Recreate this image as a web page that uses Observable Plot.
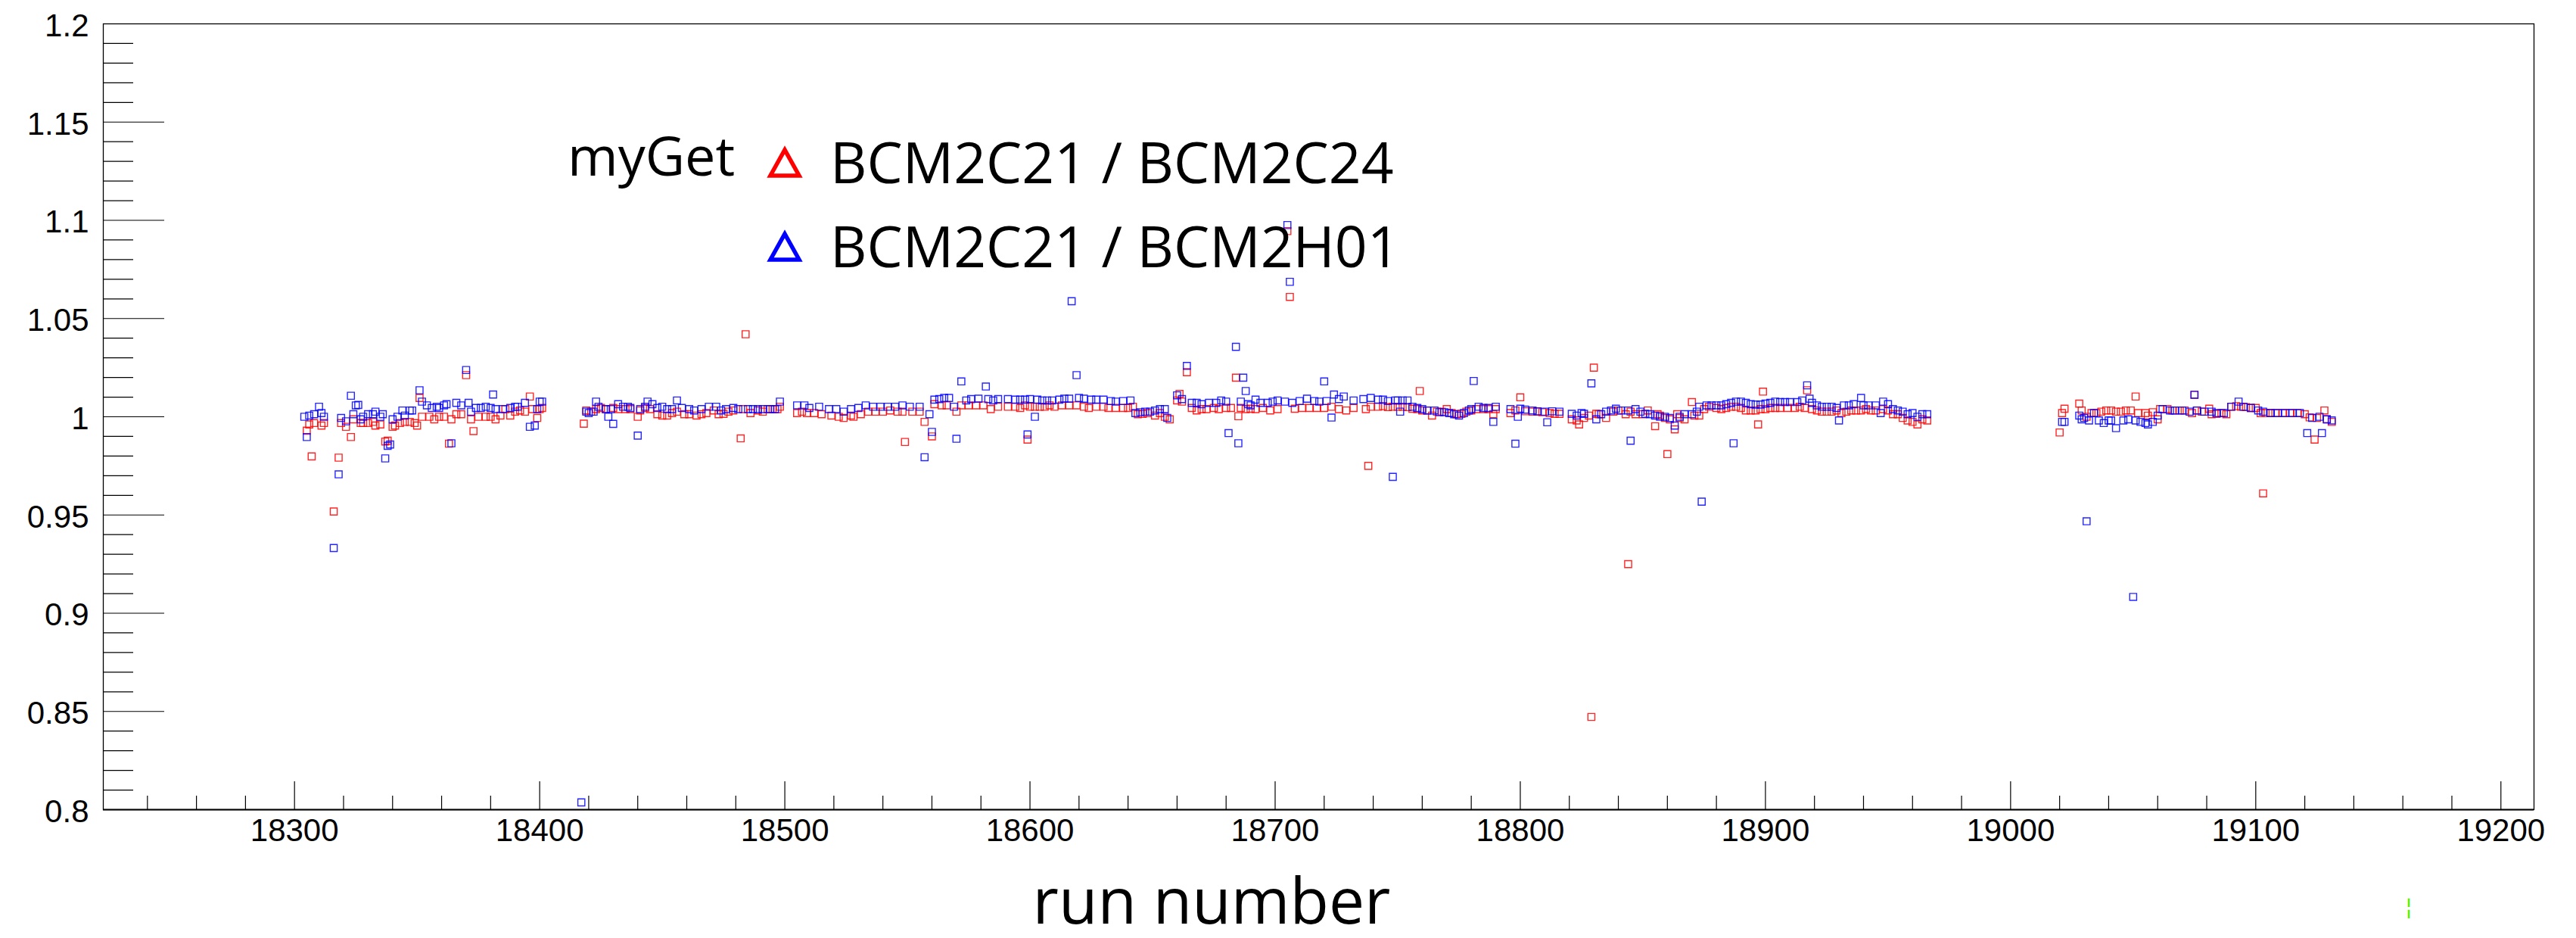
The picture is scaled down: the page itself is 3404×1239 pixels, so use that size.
<!DOCTYPE html>
<html><head><meta charset="utf-8">
<script src="https://cdn.jsdelivr.net/npm/d3@7"></script>
<script src="https://cdn.jsdelivr.net/npm/@observablehq/plot@0.6"></script>
<style>
body{margin:0;background:#fff;}
#wrap{position:relative;width:3404px;height:1239px;}
</style></head><body><div id="wrap"></div>
<script>
// ---- data: BCM2C21 / BCM2C24 (red) ----
const redRuns = [18305,18306,18307,18308,18311,18312,18316,18318,18319,18321,18323,18324,18327,18328,18330,18332,18333,18335,18337,18338,18340,18341,18343,18345,18347,18349,18350,18351,18352,18355,18357,18359,18361,18363,18364,18366,18368,18370,18372,18373,18375,18378,18380,18382,18384,18386,18388,18390,18392,18394,18396,18397,18399,18400,18401,
18418,18419,18421,18423,18425,18427,18430,18432,18435,18437,18440,18441,18443,18445,18448,18450,18452,18454,18456,18459,18461,18464,18466,18468,18471,18473,18475,18477,18479,18482,18483,18484,18486,18489,18491,18493,18495,18497,18498,
18505,18507,18509,18512,18515,18519,18522,18524,18527,18528,18531,18534,18537,18540,18543,18546,18548,18549,18552,18555,18557,18560,18561,18564,18566,18570,18572,18575,18578,18581,18584,18587,18591,18594,18596,18598,18599,18600,18602,18604,18606,18608,18610,18613,18616,18619,18622,18624,18627,18630,18632,18635,18638,18640,18642,18644,18646,18648,18651,18653,18655,18657,
18660,18661,18662,18664,18666,18668,18670,18672,18675,18677,18680,18682,18684,18685,18686,18688,18690,18692,18695,18698,18701,18705,18706,18708,18711,18714,18717,18720,18723,18726,18729,18732,18737,18738,18739,18742,18744,18746,18748,18750,18752,18754,18756,18758,18759,18760,18762,18764,18766,18768,18770,18772,18774,18776,18778,18780,18782,18785,18787,18789,18790,
18796,18798,18800,18802,18805,18807,18809,18812,18814,18816,18821,18823,18824,18826,18828,18829,18830,18831,18832,18835,18838,18840,18843,18844,18845,18847,18850,18852,18855,18856,18857,18859,18860,18861,18863,18864,18865,18867,18870,18871,18873,18875,18877,18880,18882,18884,18886,18888,18890,18892,18894,18896,18897,18898,18899,18900,18902,18904,18906,18909,18912,18914,18916,18917,18919,18921,18923,18925,18927,18929,18931,18933,18935,18937,18939,18941,18943,18945,18948,18950,18952,18954,18956,18958,18960,18962,18964,18966,
19020,19021,19022,19028,19029,19031,19033,19035,19037,19039,19041,19043,19045,19047,19049,19051,19052,19055,19056,19058,19060,19061,19064,19066,19069,19071,19074,19075,19076,19078,19081,19082,19084,19086,19088,19090,19092,19094,19096,19098,19100,19102,19103,19104,19106,19108,19111,19114,19117,19120,19122,19124,19125,19128,19129,19131];
const redRatio = [0.9929,0.9961,0.9798,0.9968,0.9955,0.9968,0.9518,0.9792,0.9968,0.9949,0.9897,0.9987,0.9968,0.9968,0.9968,0.9974,0.9955,0.9961,0.9874,0.9878,0.9949,0.9955,0.9968,0.9974,0.9974,0.9968,0.9955,1.0096,1.0,1.0,0.9987,1.0,1.0,0.9863,0.9987,1.0013,1.0013,1.0212,0.9987,0.9927,1.0,1.0,1.0,0.9987,1.0006,1.0039,1.0006,1.0026,1.0032,1.0026,1.0103,1.0039,0.9994,1.0039,1.0045,
0.9965,1.0032,1.0026,1.0039,1.0045,1.0039,1.0045,1.0039,1.0039,1.0039,1.0,1.0032,1.0045,1.0039,1.0013,1.0006,1.0006,1.0019,1.0026,1.0013,1.0013,1.0006,1.0013,1.0019,1.0032,1.0013,1.0015,1.0026,1.0032,0.989,1.0039,1.042,1.0019,1.0032,1.0026,1.0039,1.0039,1.0039,1.0051,
1.0019,1.0026,1.0019,1.0019,1.0013,1.0006,1.0,0.9994,1.0006,1.0,1.0013,1.0026,1.0026,1.0026,1.0032,1.0026,1.0026,0.9872,1.0026,1.0026,0.9974,0.99,1.0064,1.0058,1.0058,1.0026,1.0058,1.0058,1.0058,1.0058,1.0039,1.0051,1.0051,1.0051,1.0045,1.0058,0.9884,1.0051,1.0051,1.0051,1.0051,1.0058,1.0051,1.0058,1.0058,1.0058,1.0051,1.0045,1.0051,1.0051,1.0045,1.0045,1.0045,1.0045,1.0051,1.0013,1.0015,1.0019,1.0006,1.0019,1.0,0.9987,
1.0083,1.0116,1.0077,1.0227,1.0045,1.0032,1.0039,1.0039,1.0045,1.0039,1.0045,1.0045,1.0199,1.0003,1.0045,1.0039,1.0041,1.0039,1.0045,1.0032,1.0039,1.0945,1.061,1.0041,1.0045,1.0045,1.0045,1.0045,1.0051,1.0039,1.0032,1.0045,1.0039,0.975,1.0051,1.0051,1.0054,1.0049,1.0051,1.0051,1.0051,1.0049,1.0041,1.0039,1.0131,1.0032,1.0032,1.0006,1.0026,1.0026,1.0039,1.0019,1.0013,1.0015,1.0026,1.0032,1.0039,1.0039,1.0039,1.0013,1.0039,
1.0019,1.0032,1.0099,1.0028,1.0026,1.0026,1.0023,1.0019,1.0015,1.0015,0.9987,0.9981,0.9961,0.9994,1.0006,0.8472,1.025,1.0015,1.0013,0.9994,1.0026,1.0032,1.0013,0.925,1.0026,1.0013,1.0013,1.0032,0.9952,1.0013,1.0006,0.9994,0.981,0.9987,0.9936,1.0013,0.9994,0.9987,1.0075,1.0006,1.0006,1.0039,1.0051,1.0045,1.0039,1.0045,1.0051,1.0051,1.0045,1.0032,1.0032,1.0032,0.9961,1.0039,1.0128,1.0039,1.0045,1.0045,1.0045,1.0045,1.0045,1.0051,1.0045,1.0135,1.0039,1.0032,1.0026,1.0026,1.0026,1.0032,1.0019,1.0026,1.0032,1.0032,1.0032,1.0039,1.0032,1.0032,1.0039,1.0032,1.0013,1.0013,0.9994,0.9981,0.9974,0.9961,0.9987,0.9981,
0.992,1.0019,1.0041,1.0067,1.0032,1.0,1.0019,1.0019,1.0026,1.0032,1.0032,1.0026,1.0026,1.0032,1.0032,1.0103,1.0019,1.0019,1.0006,1.0023,0.9987,1.0039,1.0039,1.0032,1.0032,1.0032,1.0019,1.0112,1.0032,1.0026,1.0041,1.0013,1.0015,1.0019,1.0013,1.0051,1.0054,1.0051,1.0049,1.0045,1.0045,1.0019,0.961,1.0019,1.0019,1.0019,1.0019,1.0019,1.0019,1.0013,0.9997,0.9884,0.9994,1.0032,0.9987,0.9974];

// ---- data: BCM2C21 / BCM2H01 (blue) ----
const blueRuns = [18304,18305,18306,18308,18310,18311,18312,18316,18318,18319,18321,18323,18324,18325,18326,18327,18328,18330,18332,18333,18335,18336,18337,18338,18339,18340,18342,18344,18345,18347,18348,18351,18352,18354,18356,18358,18359,18361,18362,18364,18366,18368,18370,18371,18372,18374,18376,18378,18380,18381,18382,18385,18388,18390,18391,18394,18396,18398,18399,18400,18401,
18417,18419,18420,18422,18423,18424,18427,18428,18429,18430,18432,18434,18436,18437,18440,18441,18443,18444,18446,18448,18450,18452,18454,18456,18458,18461,18463,18466,18469,18472,18474,18476,18479,18481,18485,18487,18489,18491,18494,18496,18498,
18505,18508,18510,18514,18518,18521,18524,18527,18530,18533,18536,18539,18542,18545,18548,18551,18555,18557,18559,18560,18561,18563,18565,18567,18569,18570,18572,18574,18576,18579,18582,18583,18585,18587,18591,18594,18596,18598,18599,18600,18602,18603,18605,18607,18609,18612,18614,18616,18617,18619,18620,18622,18625,18627,18630,18633,18635,18638,18641,18643,18645,18647,18649,18651,18653,18655,18656,
18660,18662,18664,18666,18668,18670,18673,18676,18678,18680,18681,18684,18685,18686,18687,18688,18689,18690,18692,18694,18697,18699,18701,18704,18705,18706,18707,18710,18713,18716,18718,18720,18721,18723,18724,18726,18728,18732,18736,18739,18742,18744,18746,18748,18749,18750,18751,18752,18754,18756,18758,18760,18762,18765,18767,18769,18771,18773,18775,18777,18779,18780,18781,18783,18785,18787,18789,18790,
18796,18798,18799,18800,18802,18805,18807,18810,18811,18813,18816,18821,18823,18825,18826,18829,18831,18833,18835,18837,18839,18841,18844,18845,18847,18849,18851,18853,18855,18857,18859,18861,18863,18865,18867,18870,18872,18873,18874,18876,18878,18880,18882,18884,18886,18887,18888,18890,18892,18894,18896,18898,18900,18902,18904,18906,18908,18910,18913,18915,18917,18918,18919,18921,18923,18925,18927,18929,18930,18932,18934,18936,18939,18940,18942,18945,18947,18948,18950,18952,18954,18956,18958,18960,18962,18964,18966,
19021,19022,19028,19029,19030,19031,19032,19034,19036,19038,19040,19041,19043,19046,19048,19050,19051,19053,19055,19056,19058,19060,19062,19065,19067,19070,19073,19075,19076,19079,19082,19084,19087,19090,19093,19095,19098,19101,19103,19106,19109,19112,19115,19118,19121,19123,19126,19127,19129,19131];
const blueRatio = [1.0,0.9897,1.0006,1.0013,1.0051,1.0019,1.0,0.9332,0.9707,0.9994,0.9977,1.0107,1.0013,1.0058,1.006,0.9987,1.0,1.0013,1.0013,1.0026,1.0,1.0013,0.9788,0.9852,0.9859,0.9987,1.0,1.0032,1.0006,1.0032,1.0032,1.0135,1.0077,1.0058,1.0045,1.0051,1.0045,1.0058,1.0064,0.9865,1.0071,1.0058,1.0238,1.0071,1.0026,1.0045,1.0045,1.0051,1.0045,1.0113,1.0039,1.0039,1.0045,1.0051,1.0051,1.0071,0.9949,0.9955,1.0039,1.0077,1.0077,
0.8037,1.0026,1.0019,1.0026,1.0077,1.0051,1.0039,1.0,1.0039,0.9964,1.0064,1.0051,1.0051,1.0045,0.9904,1.0039,1.0051,1.0077,1.0064,1.0045,1.0051,1.0039,1.0039,1.0083,1.0045,1.0039,1.0032,1.0039,1.0051,1.0051,1.0032,1.0039,1.0045,1.0039,1.0039,1.0039,1.0039,1.0039,1.0039,1.0039,1.0077,
1.0058,1.0058,1.0045,1.0051,1.0039,1.0039,1.0026,1.0039,1.0045,1.0058,1.0051,1.0051,1.0051,1.0051,1.0058,1.0051,1.0051,0.9794,1.0013,0.9923,1.0087,1.009,1.0096,1.0096,1.0051,0.9888,1.018,1.0083,1.009,1.0092,1.0154,1.009,1.0083,1.009,1.009,1.0087,1.0087,1.0087,0.991,1.009,1.0,1.0087,1.0083,1.0083,1.0083,1.0087,1.0092,1.0092,1.0588,1.0212,1.0096,1.0092,1.0087,1.0087,1.0087,1.008,1.0077,1.008,1.0083,1.0019,1.0023,1.0026,1.0026,1.0032,1.0039,1.0039,0.9994,
1.0109,1.009,1.0259,1.0071,1.0071,1.0064,1.0071,1.0071,1.0083,1.0077,0.9917,1.0356,0.9865,1.0077,1.0199,1.0131,1.0064,1.0058,1.0087,1.0071,1.0071,1.0077,1.0083,1.0077,1.0976,1.0687,1.0071,1.008,1.0092,1.008,1.0077,1.018,1.008,0.9996,1.0113,1.009,1.0103,1.0083,1.009,1.0096,1.0087,1.0087,1.008,0.9694,1.0083,1.0083,1.0026,1.0083,1.0083,1.0051,1.0045,1.0039,1.0032,1.0032,1.0023,1.0023,1.0019,1.0013,1.0006,1.0019,1.0032,1.0039,1.0182,1.0051,1.0045,1.0045,0.9974,1.0051,
1.0039,0.9863,1.0,1.0041,1.0036,1.0032,1.0028,1.0026,0.9972,1.0028,1.0026,1.0015,1.0006,1.0019,1.0015,1.017,0.9987,1.0013,1.0026,1.0032,1.0041,1.0032,1.0032,0.9878,1.0039,1.0026,1.0015,1.0013,1.0006,1.0,1.0,0.9994,0.9955,1.0,1.0013,1.0013,1.0026,1.0051,0.9568,1.0058,1.0058,1.0058,1.0058,1.0064,1.0071,0.9865,1.0077,1.0077,1.0071,1.0064,1.0062,1.0062,1.0067,1.0071,1.0077,1.0075,1.0075,1.0075,1.0075,1.0083,1.016,1.0092,1.0071,1.0058,1.0051,1.0051,1.0051,1.0045,0.9981,1.0058,1.0058,1.0064,1.0096,1.0058,1.0058,1.0058,1.0019,1.0077,1.0064,1.0039,1.0032,1.0026,1.0013,1.0019,1.0,1.0013,1.0013,
0.9974,0.9974,1.0006,0.9987,0.9994,0.9468,0.9981,1.0019,0.9981,0.9968,0.9981,0.9981,0.9942,0.9981,0.9987,0.9083,0.9981,0.9974,0.9968,0.9961,0.9974,1.0006,1.0039,1.0032,1.0032,1.0032,1.0026,1.0112,1.0032,1.0026,1.0026,1.0019,1.0019,1.0051,1.0077,1.0051,1.0045,1.0032,1.0026,1.0019,1.0019,1.0019,1.0019,1.0019,0.9917,0.9994,1.0,0.9917,0.9987,0.9981];

// ---- axes ----
const xMajorTicks = [18300,18400,18500,18600,18700,18800,18900,19000,19100,19200];
const yMajorTicks = [0.8,0.85,0.9,0.95,1.0,1.05,1.1,1.15,1.2];
const xMinorTicks = d3.range(18240, 19201, 20).filter(v => v % 100 !== 0);
const yMinorTicks = d3.range(81, 120).map(v => v / 100).filter(v => Math.round(v * 100) % 5 !== 0);
const seriesNames = ["BCM2C21 / BCM2C24", "BCM2C21 / BCM2H01"];
const seriesColors = ["#ff0000", "#0000ff"];
const legendTitle = "myGet";
const xTitle = "run number";

const red = redRuns.map((r, i) => ({run: r, ratio: redRatio[i]}));
const blue = blueRuns.map((r, i) => ({run: r, ratio: blueRatio[i]}));

const W = 3404, H = 1239, mL = 136, mR = 56, mT = 31, mB = 170;
const pw = W - mL - mR, ph = H - mT - mB;
const tickFont = "Liberation Sans, Arial, Helvetica, sans-serif";

const chart = Plot.plot({
  width: W, height: H,
  marginLeft: mL, marginRight: mR, marginTop: mT, marginBottom: mB,
  style: {background: "#fff"},
  x: {domain: [18222, 19213.5]},
  y: {domain: [0.8, 1.2]},
  marks: [
    Plot.tickX(xMajorTicks, {x: d => d, insetTop: ph - 37, stroke: "#000", strokeWidth: 1.2}),
    Plot.tickX(xMinorTicks, {x: d => d, insetTop: ph - 18, stroke: "#000", strokeWidth: 1.2}),
    Plot.tickY(yMajorTicks, {y: d => d, insetRight: pw - 81, stroke: "#000", strokeWidth: 1.2}),
    Plot.tickY(yMinorTicks, {y: d => d, insetRight: pw - 40, stroke: "#000", strokeWidth: 1.2}),
    Plot.axisX({ticks: xMajorTicks, tickSize: 0, tickPadding: 12, tickFormat: d => String(d),
      fontSize: 42, fontFamily: tickFont, fill: "#000", label: null}),
    Plot.axisY({ticks: yMajorTicks, tickSize: 0, tickPadding: 19, tickFormat: d => String(+d.toFixed(2)),
      fontSize: 42, fontFamily: tickFont, fill: "#000", dy: 3, label: null}),
    Plot.dot(red, {x: "run", y: "ratio", symbol: "square", r: 5.2, stroke: seriesColors[0], strokeWidth: 1.4, strokeOpacity: 0.85, fill: "none"}),
    Plot.dot(blue, {x: "run", y: "ratio", symbol: "square", r: 5.2, stroke: seriesColors[1], strokeWidth: 1.4, strokeOpacity: 0.85, fill: "none"}),
    Plot.frame({stroke: "#000", strokeWidth: 1.3}),
    Plot.ruleY([0.8], {stroke: "#000", strokeWidth: 2})
  ]
});
document.getElementById("wrap").appendChild(chart);

// legend and titles drawn into the same svg
const svg = d3.select(chart);
const legFont = "Open Sans, Noto Sans, sans-serif";
const g = svg.append("g").attr("text-anchor", "start");
g.append("text").attr("x", 750).attr("y", 232).attr("text-anchor", "start").attr("font-family", legFont).attr("font-size", 72).attr("fill", "#000").text(legendTitle);
[[0, 232, 242], [1, 343, 353]].forEach(([i, tb, base]) => {
  g.append("path").attr("d", `M1018,${tb}L1056,${tb}L1037,${tb - 34}Z`).attr("fill", "none")
    .attr("stroke", seriesColors[i]).attr("stroke-width", 5.5).attr("stroke-linejoin", "miter");
  g.append("text").attr("x", 1097).attr("y", base).attr("text-anchor", "start").attr("font-family", legFont).attr("font-size", 75).attr("fill", "#000").text(seriesNames[i]);
});
g.append("text").attr("x", 1601).attr("y", 1220).attr("text-anchor", "middle").attr("font-family", legFont)
  .attr("font-size", 84).attr("fill", "#000").text(xTitle);
g.append("text").attr("x", 3183).attr("y", 1208).attr("text-anchor", "middle").attr("font-family", "DejaVu Sans")
  .attr("font-size", 30).attr("fill", "#5cf000").text("¦");
</script>
</body></html>
